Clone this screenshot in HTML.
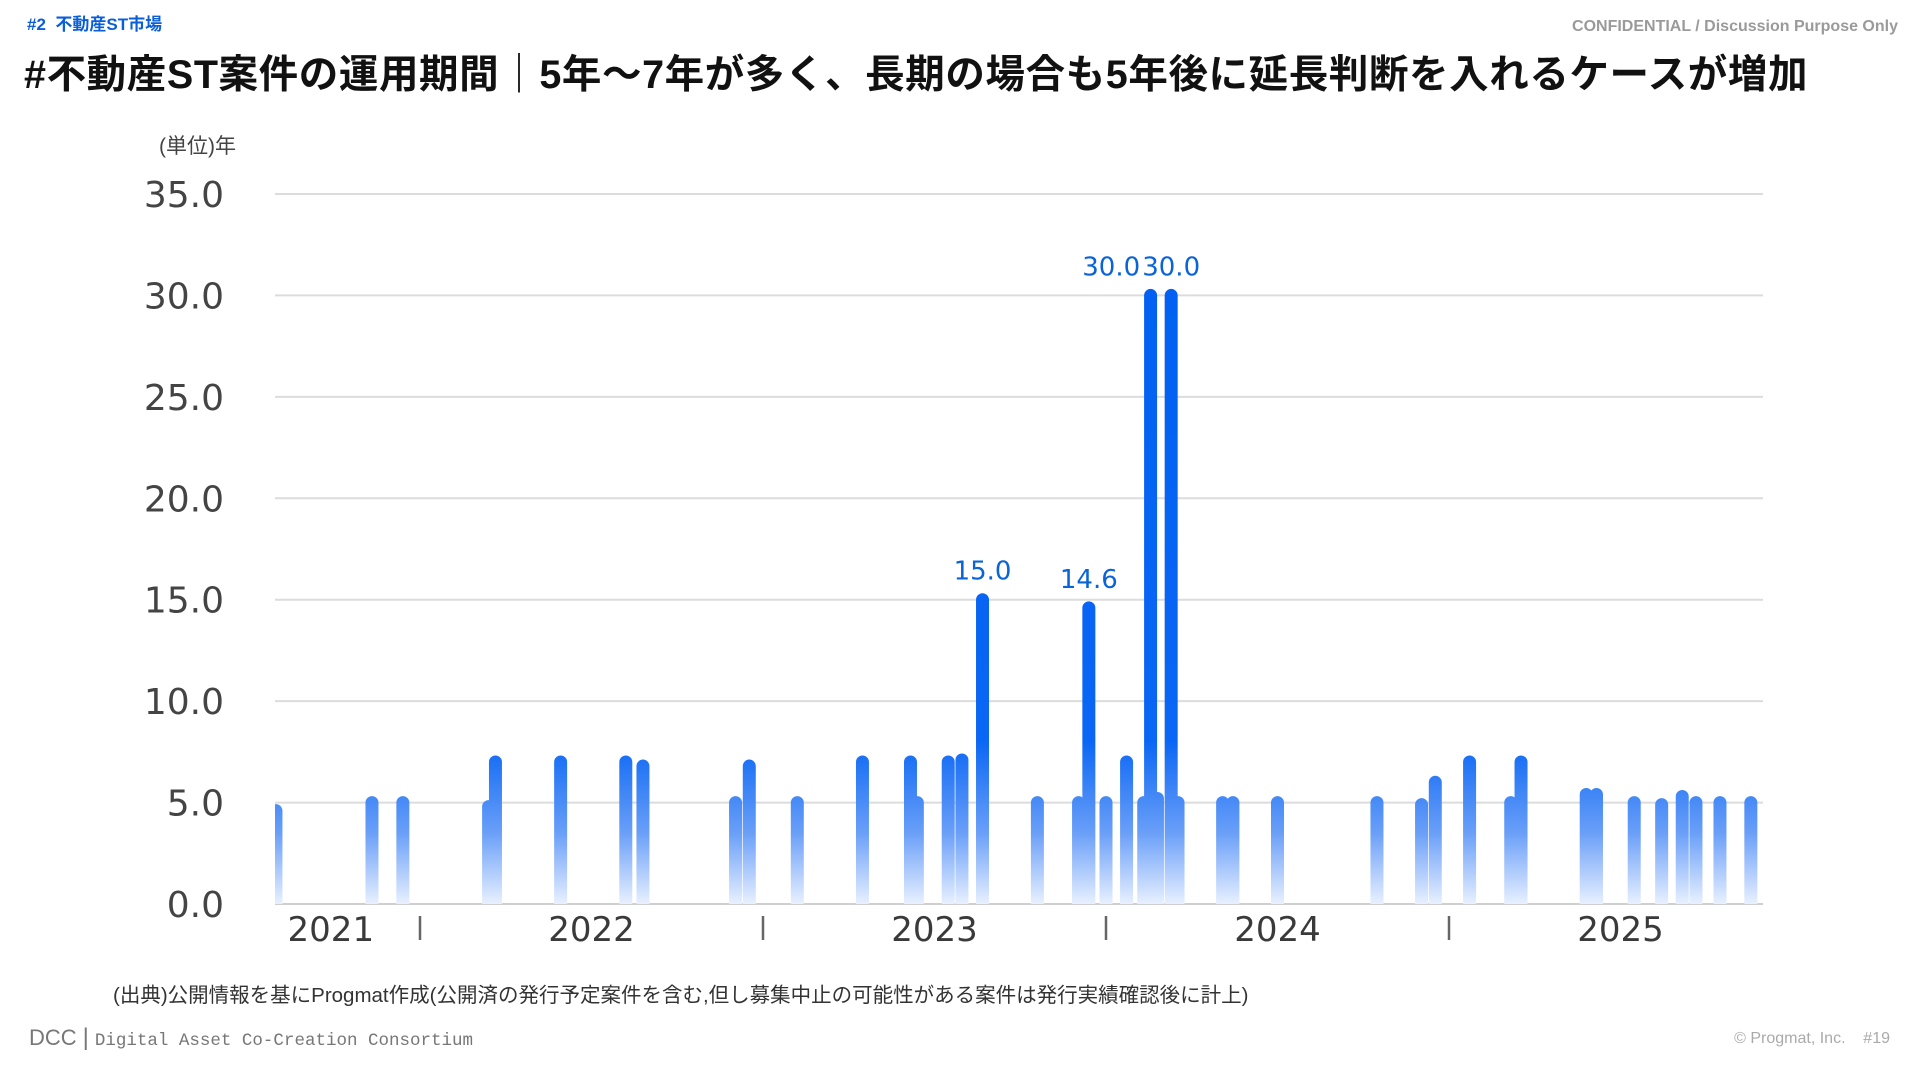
<!DOCTYPE html>
<html><head><meta charset="utf-8">
<style>
html,body{margin:0;padding:0;background:#fff;}
body{width:1920px;height:1080px;position:relative;overflow:hidden;font-family:"Liberation Sans","Noto Sans CJK JP",sans-serif;}
.abs{position:absolute;white-space:nowrap;}
</style></head>
<body>
<div class="abs" style="left:27px;top:10px;font-size:17px;font-weight:bold;color:#0a5fd8;">#2&nbsp; 不動産ST市場</div>
<div class="abs" style="right:22px;top:18px;font-size:16px;font-weight:bold;color:#9a9a9a;">CONFIDENTIAL / Discussion Purpose Only</div>
<div class="abs" style="left:24px;top:43px;font-size:39.5px;font-weight:bold;color:#111;letter-spacing:0.6px;">#不動産ST案件の運用期間｜5年～7年が多く、長期の場合も5年後に延長判断を入れるケースが増加</div>
<div class="abs" style="left:159px;top:130px;font-size:21px;color:#444;">(単位)年</div>

<svg id="chart" width="1920" height="1080" style="position:absolute;left:0;top:0;">
<defs>
<linearGradient id="bg" gradientUnits="userSpaceOnUse" x1="0" y1="194" x2="0" y2="904">
<stop offset="0" stop-color="#0060f2"/>
<stop offset="0.77" stop-color="#0a66f4"/>
<stop offset="0.9" stop-color="#6a9ff8"/>
<stop offset="1" stop-color="#e8f0ff"/>
</linearGradient>
<clipPath id="pc"><rect x="275" y="150" width="1488" height="754"/></clipPath>
</defs>
<g id="grid"></g>
<g id="bars" clip-path="url(#pc)"></g>
<g id="labels"></g>
</svg>

<div class="abs" style="left:113px;top:978px;font-size:20.5px;color:#333;">(出典)公開情報を基にProgmat作成(公開済の発行予定案件を含む,但し募集中止の可能性がある案件は発行実績確認後に計上)</div>
<div class="abs" style="left:29px;top:1024px;font-size:22px;color:#777;">DCC<span style="font-size:24px;margin:0 6px;">|</span><span style="font-family:'Liberation Mono',monospace;font-size:17.5px;">Digital Asset Co-Creation Consortium</span></div>
<div class="abs" style="right:30px;top:1030px;font-size:16px;color:#aaa;">© Progmat, Inc.&nbsp;&nbsp;&nbsp; #19</div>

<script>
const barDates = [2021.58,2021.86,2021.95,2022.20,2022.22,2022.41,2022.60,2022.65,2022.92,2022.96,2023.10,2023.29,2023.43,2023.45,2023.54,2023.58,2023.64,2023.80,2023.92,2023.95,2024.00,2024.06,2024.11,2024.13,2024.15,2024.19,2024.21,2024.34,2024.37,2024.50,2024.79,2024.92,2024.96,2025.06,2025.18,2025.21,2025.40,2025.43,2025.54,2025.62,2025.68,2025.72,2025.79,2025.88];
const barValues = [4.6,5.0,5.0,4.8,7.0,7.0,7.0,6.8,5.0,6.8,5.0,7.0,7.0,5.0,7.0,7.1,15.0,5.0,5.0,14.6,5.0,7.0,5.0,30.0,5.2,30.0,5.0,5.0,5.0,5.0,5.0,4.9,6.0,7.0,5.0,7.0,5.4,5.4,5.0,4.9,5.3,5.0,5.0,5.0];
const labeledValues = [15.0,14.6,30.0,30.0];
const yTicks = [0,5,10,15,20,25,30,35];
const yTickLabels = ["0.0","5.0","10.0","15.0","20.0","25.0","30.0","35.0"];
const yearTicks = [2021.74,2022.5,2023.5,2024.5,2025.5];
const yearLabels = ["2021","2022","2023","2024","2025"];
const yearBounds = [2022,2023,2024,2025];

const NS="http://www.w3.org/2000/svg";
const X0=275,X1=1763;
function xs(t){return 420+(t-2022)*343;}
function ys(v){return 904-v*(710/35);}
function mk(tag,attrs,parent){const e=document.createElementNS(NS,tag);for(const k in attrs)e.setAttribute(k,attrs[k]);parent.appendChild(e);return e;}
const grid=document.getElementById('grid'),bars=document.getElementById('bars'),labels=document.getElementById('labels');

yTicks.forEach((v,i)=>{
  const l=mk('line',{x1:X0,x2:X1,y1:ys(v),y2:ys(v),stroke:v===0?'#cfcfcf':'#dcdcdc','stroke-width':2},grid);
  
  
  const t=mk('text',{x:224,y:ys(v)+13,'text-anchor':'end','font-size':36,fill:'#444','font-family':'DejaVu Sans, Liberation Sans, sans-serif'},labels);
  t.textContent=yTickLabels[i];
  
  
});

barDates.forEach((d,i)=>{
  const x=xs(d),y=ys(barValues[i]);
  const b=mk('line',{x1:x,x2:x,y1:904+10,y2:y,stroke:'url(#bg)','stroke-width':13,'stroke-linecap':'round'},bars);
  
  
});

// value labels on the tall bars
const labeledIdx=[];
let li=0;
barValues.forEach((v,i)=>{
  if(li<labeledValues.length && v===labeledValues[li]){labeledIdx.push(i);li++;}
});
labeledIdx.forEach((i,k)=>{
  const v=barValues[i];
  let x=xs(barDates[i]),anchor='middle';
  const nxt=labeledIdx[k+1];
  if(nxt!==undefined && xs(barDates[nxt])-x<60){x=xs(barDates[nxt])-31;anchor='end';}
  const t=mk('text',{x:x,y:ys(v)-20,'text-anchor':anchor,'font-size':26,fill:'#0a64d8','font-family':'DejaVu Sans, Liberation Sans, sans-serif'},labels);
  t.textContent=v.toFixed(1);
  
  
});

yearTicks.forEach((t,i)=>{
  const e=mk('text',{x:xs(t),y:941,'text-anchor':'middle','font-size':34,fill:'#3a3a3a','font-family':'DejaVu Sans, Liberation Sans, sans-serif'},labels);
  e.textContent=yearLabels[i];
  
  
});
yearBounds.forEach(t=>{
  const e=mk('line',{x1:xs(t),x2:xs(t),y1:916,y2:940,stroke:'#666','stroke-width':2.5},labels);
  
  
});
</script>
</body></html>
